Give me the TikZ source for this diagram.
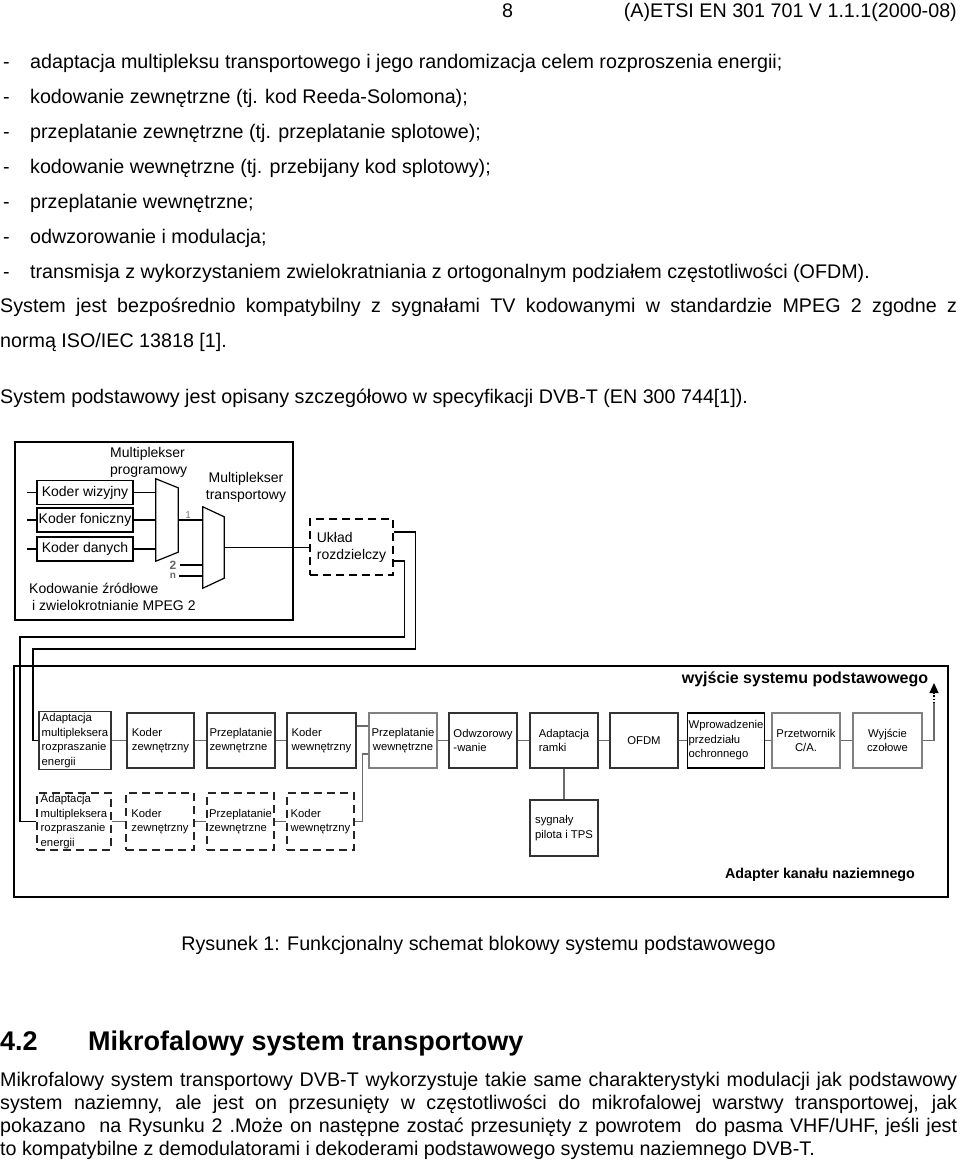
\documentclass[tikz,border=0pt]{standalone}
\usepackage{fontspec}
\setmainfont{Liberation Sans}
\usepackage{tikz}
\usetikzlibrary{arrows.meta, positioning}
\definecolor{wiregray}{HTML}{6A6A6A}
\definecolor{labelgray}{HTML}{7A7A7A}

\begin{document}
\begin{tikzpicture}[x=1pt, y=-1pt,
    txt/.style={anchor=base west, inner sep=0pt, font=\fontsize{19.7}{23}\selectfont},
    srcbox/.style={draw, line width=1.3pt, minimum width=96pt, minimum height=24pt,
                   inner sep=1pt, font=\fontsize{14}{17}\selectfont},
    lbl/.style={align=left, inner sep=0pt, font=\fontsize{14}{17}\selectfont},
    blk/.style={draw=black!80, line width=1.2pt, minimum width=68pt, minimum height=55pt,
                inner sep=2pt, align=left, font=\fontsize{11.3}{14.5}\selectfont},
    blkl/.style={blk, draw=black!50, align=center},
    dblk/.style={blk, draw=black!85, dash pattern=on 8pt off 5pt, minimum height=57pt},
    frame/.style={draw, line width=1.4pt, inner sep=0pt},
    wire/.style={line width=1.2pt, draw=wiregray},
    feed/.style={line width=1.3pt},
    tag/.style={inner sep=0pt, font=\bfseries\fontsize{16}{19}\selectfont}
  ]
  \useasboundingbox (0,0) rectangle (960,1162);

  \node[txt] (pgno) at (502,17) {8};
  \node[txt, anchor=base east] (docref) at (957,17) {(A)ETSI EN 301 701 V 1.1.1(2000-08)};

  \node[txt] (l1) at (3,68) {\makebox[27pt][l]{-}adaptacja multipleksu transportowego i jego randomizacja celem rozproszenia energii;};
  \node[txt] (l2) at (3,103) {\makebox[27pt][l]{-}kodowanie zewnętrzne (tj. kod Reeda-Solomona);};
  \node[txt] (l3) at (3,138) {\makebox[27pt][l]{-}przeplatanie zewnętrzne (tj. przeplatanie splotowe);};
  \node[txt] (l4) at (3,173) {\makebox[27pt][l]{-}kodowanie wewnętrzne (tj. przebijany kod splotowy);};
  \node[txt] (l5) at (3,208) {\makebox[27pt][l]{-}przeplatanie wewnętrzne;};
  \node[txt] (l6) at (3,243) {\makebox[27pt][l]{-}odwzorowanie i modulacja;};
  \node[txt] (l7) at (3,278) {\makebox[27pt][l]{-}transmisja z wykorzystaniem zwielokratniania z ortogonalnym podziałem częstotliwości (OFDM).};

  \node[txt] (s1) at (0,312) {\makebox[957pt][s]{System jest bezpośrednio kompatybilny z sygnałami TV kodowanymi w standardzie MPEG 2 zgodne z}};
  \node[txt] (s2) at (0,347) {normą ISO/IEC 13818 [1].};
  \node[txt] (s3) at (0,403) {System podstawowy jest opisany szczegółowo w specyfikacji DVB-T (EN 300 744[1]).};

  % zrodla i multipleksery
  \node[frame, minimum width=278pt, minimum height=178pt] (srcframe) at (154,531) {};
  \node[srcbox] (kwiz) at (85,492.5) {Koder wizyjny};
  \node[srcbox] (kfon) at (85,520) {Koder foniczny};
  \node[srcbox] (kdan) at (85,549) {Koder danych};
  \draw[feed] (kwiz.west) -- ++(-9,0);
  \draw[feed] (kfon.west) -- ++(-9,0);
  \draw[feed] (kdan.west) -- ++(-9,0);

  \node[minimum width=22pt, minimum height=82pt, inner sep=0pt] (mux1) at (167,520) {};
  \draw[line width=1.2pt] (mux1.north west) -- ([yshift=-9pt]mux1.north east)
    -- ([yshift=9pt]mux1.south east) -- (mux1.south west) -- cycle;
  \node[minimum width=21pt, minimum height=81pt, inner sep=0pt] (mux2) at (213.5,547.5) {};
  \draw[line width=1.2pt] (mux2.north west) -- ([yshift=-10pt]mux2.north east)
    -- ([yshift=10pt]mux2.south east) -- (mux2.south west) -- cycle;

  \node[lbl, anchor=west] (mplab) at (110,462) {Multiplekser\\programowy};
  \node[lbl, align=center] (mtlab) at (246,487) {Multiplekser\\transportowy};
  \node[lbl, anchor=west] (kodlab) at (29,597) {Kodowanie źródłowe\\\hspace*{3pt}i zwielokrotnianie MPEG 2};

  \draw[feed] (kwiz) -- (kwiz -| mux1.west);
  \draw[feed] (kfon) -- (kfon -| mux1.west);
  \draw[feed] (kdan) -- (kdan -| mux1.west);
  \draw[feed] (mux1.east) -- (mux1.east -| mux2.west)
    node[pos=0.4, above, inner sep=1pt, text=labelgray, font=\fontsize{10}{12}\selectfont] (in1) {1};
  \node[inner sep=0pt, text=black!60, font=\bfseries\fontsize{12}{14}\selectfont] (in2) at (173,565) {2};
  \node[inner sep=0pt, text=black!60, font=\bfseries\fontsize{10}{12}\selectfont] (inn) at (173,576) {n};
  \draw[feed] (in2.east) ++(3,0) -- (in2.east -| mux2.west);
  \draw[feed] (inn.east) ++(3,0) -- (inn.east -| mux2.west);

  \node[lbl, draw, line width=1.2pt, dash pattern=on 8pt off 5pt, minimum width=83pt,
        minimum height=56pt] (uklad) at (351.5,547) {Układ\\rozdzielczy};
  \draw[feed] (mux2.east) -- (mux2.east -| uklad.west);

  % adapter kanalu
  \node[frame, minimum width=934pt, minimum height=231pt] (adframe) at (481,781.5) {};

  \node[blk, minimum width=72pt, minimum height=58pt, inner sep=1pt] (adm1) at (75,740.5)
    {Adaptacja\\multipleksera\\rozpraszanie\\energii};
  \node[blk, minimum width=67pt] (kz1) at (160.5,740.5) {Koder\\zewnętrzny};
  \node[blk] (pz1) at (241,740.5) {Przeplatanie\\zewnętrzne};
  \node[blk, minimum width=69pt] (kwe1) at (321.5,740.5) {Koder\\wewnętrzny};
  \node[blkl] (pwe) at (403,740.5) {Przeplatanie\\wewnętrzne};
  \node[blk] (odw) at (483,740.5) {Odwzorowy\\-wanie};
  \node[blk] (ar) at (564,740.5) {Adaptacja\\ramki};
  \node[blk] (ofdm) at (644,740.5) {OFDM};
  \node[blk, draw=black, minimum width=76pt, inner sep=1pt] (wpr) at (726,740.5)
    {Wprowadzenie\\przedziału\\ochronnego};
  \node[blkl] (ca) at (806,740.5) {Przetwornik\\C/A.};
  \node[blkl, minimum width=69pt] (wyj) at (887.5,740.5) {Wyjście\\czołowe};
  \node[blk, minimum height=56pt] (syg) at (564,828) {sygnały\\pilota i TPS};

  \node[dblk, minimum width=74pt, inner sep=1pt] (adm2) at (74,821.5)
    {Adaptacja\\multipleksera\\rozpraszanie\\energii};
  \node[dblk] (kz2) at (160,821.5) {Koder\\zewnętrzny};
  \node[dblk, minimum width=67pt] (pz2) at (240.5,821.5) {Przeplatanie\\zewnętrzne};
  \node[dblk, minimum width=67pt] (kwe2) at (320.5,821.5) {Koder\\wewnętrzny};

  \coordinate (busa) at (33,649);
  \coordinate (busb) at (20,637);
  \draw[feed] ([yshift=15pt]uklad.east) -- ++(22,0) |- (busa) |- (adm1.west);
  \draw[feed] ([yshift=-14pt]uklad.east) -- ++(11,0) |- (busb) |- (adm2.west);

  \draw[wire] (adm1) -- (kz1);
  \draw[wire] (kz1) -- (pz1);
  \draw[wire] (pz1) -- (kwe1);
  \draw[wire] ([yshift=14.5pt]kwe1.east) -- ([yshift=14.5pt]pwe.west);
  \draw[wire] (pwe) -- (odw);
  \draw[wire] (odw) -- (ar);
  \draw[wire] (ar) -- (ofdm);
  \draw[wire] (ofdm) -- (wpr);
  \draw[wire] (wpr) -- (ca);
  \draw[wire] (ca) -- (wyj);
  \draw[wire] (ar) -- (syg);
  \draw[wire] (adm2) -- (kz2);
  \draw[wire] (kz2) -- (pz2);
  \draw[wire] (pz2) -- (kwe2);
  \draw[wire] (kwe2.east) -- ++(8,0) |- ([yshift=-13.5pt]pwe.west);

  \coordinate (outbend) at (934,703);
  \coordinate (outtip) at (934,683);
  \draw[wire] (wyj.east) -| (outbend);
  \draw[line width=1.2pt, dotted, -{Triangle[width=9pt, length=10pt]}] (outbend) -- (outtip);
  \node[tag] (outtag) at (805,679) {wyjście systemu podstawowego};
  \node[tag, font=\bfseries\fontsize{14.3}{17}\selectfont] (adtag) at (820,875) {Adapter kanału naziemnego};

  \node[txt, anchor=base] (caption) at (478.5,950) {Rysunek 1: Funkcjonalny schemat blokowy systemu podstawowego};

  \node[txt, font=\bfseries\fontsize{27}{32}\selectfont] (secno) at (0,1050) {4.2};
  \node[txt, font=\bfseries\fontsize{27}{32}\selectfont] (sectitle) at (88,1050) {Mikrofalowy system transportowy};

  \node[txt] (p1) at (0,1086) {\makebox[957pt][s]{Mikrofalowy system transportowy DVB-T wykorzystuje takie same charakterystyki modulacji jak podstawowy}};
  \node[txt] (p2) at (0,1109) {\makebox[957pt][s]{system naziemny, ale jest on przesunięty w częstotliwości do mikrofalowej warstwy transportowej, jak}};
  \node[txt] (p3) at (0,1132) {\makebox[957pt][s]{pokazano\ \ na Rysunku 2 .Może on następne zostać przesunięty z powrotem\ \ do pasma VHF/UHF, jeśli jest}};
  \node[txt] (p4) at (0,1155) {to kompatybilne z demodulatorami i dekoderami podstawowego systemu naziemnego DVB-T.};
\end{tikzpicture}
\end{document}
